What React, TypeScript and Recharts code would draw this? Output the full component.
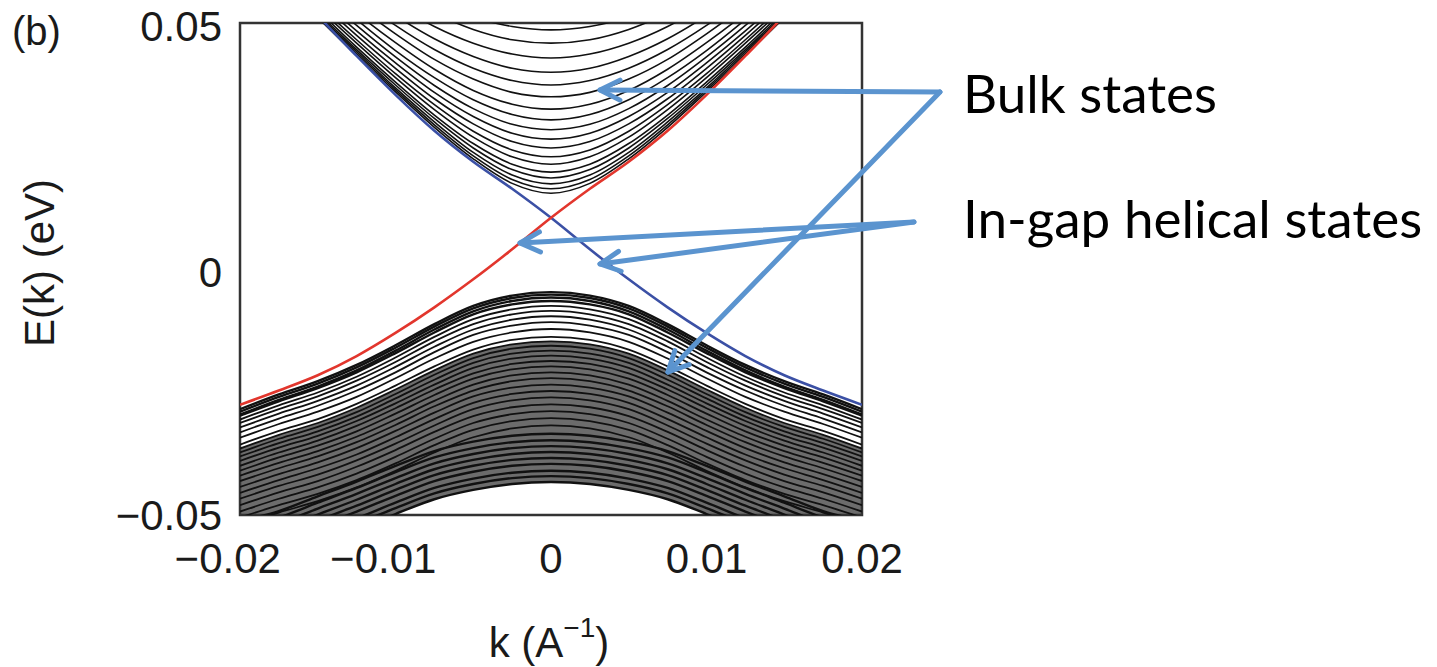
import { ComposedChart, Line, Area, XAxis, YAxis, ReferenceArea } from 'recharts';

// k grid (1/Å) used for every curve
const kGrid = [
  -0.02, -0.0175, -0.015, -0.0125, -0.01, -0.0075, -0.005, -0.0025, 0,
  0.0025, 0.005, 0.0075, 0.01, 0.0125, 0.015, 0.0175, 0.02,
];
const kTicks = [-0.02, -0.01, 0, 0.01, 0.02];
const eTicks = [-0.05, 0, 0.05];

// in-gap helical edge states (eV), one value per kGrid point
const helicalRed = [
  -0.0276, -0.0247, -0.0216, -0.0177, -0.013, -0.0078, -0.0021, 0.004, 0.0104,
  0.0163, 0.0218, 0.0281, 0.0354, 0.0433, 0.0516, 0.061, 0.07,
];
const helicalBlue = [
  0.07, 0.061, 0.0516, 0.0433, 0.0354, 0.0281, 0.0218, 0.0163, 0.0104,
  0.004, -0.0021, -0.0078, -0.013, -0.0177, -0.0216, -0.0247, -0.0276,
];

// bulk subbands, symmetric in k: values at k = 0, 0.0025 ... 0.02
const conductionBands = [
  [0.0154, 0.0174, 0.0224, 0.0288, 0.036, 0.0434, 0.0511, 0.0589, 0.0668],
  [0.0163, 0.0182, 0.023, 0.0293, 0.0364, 0.0438, 0.0514, 0.0592, 0.067],
  [0.0173, 0.0191, 0.0237, 0.0299, 0.0368, 0.0442, 0.0517, 0.0595, 0.0673],
  [0.0185, 0.0202, 0.0246, 0.0306, 0.0374, 0.0446, 0.0521, 0.0598, 0.0676],
  [0.0197, 0.0213, 0.0255, 0.0313, 0.038, 0.0451, 0.0526, 0.0602, 0.068],
  [0.0213, 0.0228, 0.0268, 0.0324, 0.0389, 0.0459, 0.0532, 0.0608, 0.0685],
  [0.0228, 0.0242, 0.028, 0.0334, 0.0397, 0.0466, 0.0538, 0.0613, 0.069],
  [0.0246, 0.0259, 0.0295, 0.0346, 0.0408, 0.0475, 0.0546, 0.062, 0.0696],
  [0.0264, 0.0276, 0.031, 0.0359, 0.0419, 0.0484, 0.0554, 0.0627, 0.0702],
  [0.0283, 0.0294, 0.0326, 0.0373, 0.0431, 0.0495, 0.0564, 0.0636, 0.071],
  [0.0303, 0.0314, 0.0344, 0.0389, 0.0444, 0.0507, 0.0575, 0.0646, 0.0719],
  [0.0325, 0.0335, 0.0363, 0.0406, 0.046, 0.052, 0.0587, 0.0657, 0.0729],
  [0.035, 0.0359, 0.0386, 0.0426, 0.0478, 0.0536, 0.0601, 0.0669, 0.074],
  [0.0374, 0.0383, 0.0408, 0.0446, 0.0495, 0.0552, 0.0615, 0.0682, 0.0752],
  [0.04, 0.0408, 0.0432, 0.0468, 0.0515, 0.057, 0.0631, 0.0697, 0.0766],
  [0.0429, 0.0437, 0.0459, 0.0493, 0.0538, 0.0591, 0.065, 0.0714, 0.0782],
  [0.0459, 0.0466, 0.0487, 0.052, 0.0563, 0.0614, 0.0671, 0.0733, 0.08],
  [0.0486, 0.0493, 0.0512, 0.0543, 0.0585, 0.0634, 0.069, 0.0751, 0.0816],
];

const valenceUpperBands = [
  [-0.0047, -0.0054, -0.0075, -0.0112, -0.0155, -0.0195, -0.0228, -0.0255, -0.0285],
  [-0.0052, -0.0059, -0.008, -0.0117, -0.016, -0.02, -0.0233, -0.026, -0.029],
  [-0.0058, -0.0065, -0.0086, -0.0123, -0.0166, -0.0206, -0.0239, -0.0266, -0.0296],
  [-0.0065, -0.0072, -0.0092, -0.0129, -0.0171, -0.021, -0.0242, -0.0269, -0.0298],
  [-0.0075, -0.0082, -0.0102, -0.0138, -0.018, -0.0219, -0.0251, -0.0277, -0.0306],
  [-0.0085, -0.0092, -0.0112, -0.0147, -0.0189, -0.0227, -0.0259, -0.0285, -0.0313],
  [-0.0096, -0.0103, -0.0123, -0.0158, -0.0199, -0.0237, -0.0268, -0.0294, -0.0322],
  [-0.0108, -0.0115, -0.0134, -0.0169, -0.021, -0.0247, -0.0278, -0.0304, -0.0332],
  [-0.0122, -0.0129, -0.0148, -0.0182, -0.0222, -0.026, -0.029, -0.0315, -0.0343],
  [-0.0138, -0.0144, -0.0164, -0.0198, -0.0237, -0.0274, -0.0305, -0.0329, -0.0357],
  [-0.0147, -0.0153, -0.0172, -0.0206, -0.0245, -0.0282, -0.0313, -0.0337, -0.0365],
  [-0.0156, -0.0162, -0.0181, -0.0215, -0.0254, -0.0291, -0.0321, -0.0345, -0.0373],
  [-0.0166, -0.0172, -0.0191, -0.0225, -0.0263, -0.03, -0.033, -0.0354, -0.0381],
  [-0.0176, -0.0182, -0.0201, -0.0235, -0.0273, -0.0309, -0.0339, -0.0363, -0.039],
  [-0.0187, -0.0193, -0.0212, -0.0245, -0.0283, -0.0319, -0.0349, -0.0373, -0.04],
  [-0.0198, -0.0204, -0.0223, -0.0256, -0.0294, -0.033, -0.0359, -0.0383, -0.041],
  [-0.021, -0.0216, -0.0235, -0.0268, -0.0306, -0.0341, -0.037, -0.0394, -0.042],
  [-0.0222, -0.0228, -0.0247, -0.0279, -0.0317, -0.0352, -0.0381, -0.0405, -0.0431],
  [-0.0235, -0.0241, -0.0259, -0.0292, -0.0329, -0.0364, -0.0393, -0.0417, -0.0443],
  [-0.0248, -0.0254, -0.0272, -0.0305, -0.0342, -0.0377, -0.0405, -0.0429, -0.0455],
  [-0.0261, -0.0267, -0.0285, -0.0318, -0.0355, -0.0389, -0.0418, -0.0441, -0.0467],
  [-0.0275, -0.0281, -0.0299, -0.0331, -0.0368, -0.0402, -0.0431, -0.0454, -0.048],
  [-0.0289, -0.0295, -0.0313, -0.0345, -0.0382, -0.0416, -0.0444, -0.0467, -0.0493],
  [-0.0303, -0.0309, -0.0327, -0.0358, -0.0395, -0.0429, -0.0457, -0.048, -0.0505],
  [-0.0318, -0.0324, -0.0342, -0.0373, -0.041, -0.0444, -0.0472, -0.0495, -0.052],
];

const valenceLowerBands = [
  [-0.0335, -0.0339, -0.0351, -0.037, -0.04, -0.0432, -0.0462, -0.0492, -0.0512],
  [-0.0348, -0.0352, -0.0364, -0.0383, -0.0413, -0.0445, -0.0475, -0.0505, -0.0525],
  [-0.036, -0.0364, -0.0376, -0.0395, -0.0425, -0.0457, -0.0487, -0.0517, -0.0537],
  [-0.0372, -0.0376, -0.0388, -0.0407, -0.0437, -0.0469, -0.0499, -0.0529, -0.0549],
  [-0.0384, -0.0388, -0.04, -0.0419, -0.0449, -0.0481, -0.0511, -0.0541, -0.0561],
  [-0.0396, -0.04, -0.0412, -0.0431, -0.0461, -0.0493, -0.0523, -0.0553, -0.0573],
  [-0.041, -0.0414, -0.0426, -0.0445, -0.0475, -0.0507, -0.0537, -0.0567, -0.0587],
  [-0.0421, -0.0425, -0.0437, -0.0456, -0.0486, -0.0518, -0.0548, -0.0578, -0.0598],
  [-0.0433, -0.0437, -0.0449, -0.0468, -0.0498, -0.053, -0.056, -0.059, -0.061],
];

const FONT = '"Liberation Sans", Arial, Helvetica, sans-serif';
const ARROW = '#5b94cf';

const chartData = kGrid.map((k, i) => {
  const h = Math.abs(i - 8); // bulk bands are mirrored about k = 0
  const row: Record<string, any> = { k, red: helicalRed[i], blue: helicalBlue[i] };
  conductionBands.forEach((b, j) => (row[`c${j}`] = b[h]));
  valenceUpperBands.forEach((b, j) => (row[`vu${j}`] = b[h]));
  valenceLowerBands.forEach((b, j) => (row[`vl${j}`] = b[h]));
  // grey mesh of the dense lower valence bands
  row.mesh = [valenceLowerBands[valenceLowerBands.length - 1][h], valenceUpperBands[10][h]];
  return row;
});

const XTick = ({ x, y, payload }: any) => {
  const v = payload.value as number;
  const body = v === 0 ? '0' : Math.abs(v).toFixed(2);
  return (
    <g fontFamily={FONT} fontSize={42} fill="#1a1a1a">
      <text x={x} y={y + 58} textAnchor="middle">{body}</text>
      {v < 0 && <text x={x - 41} y={y + 58} textAnchor="end">−</text>}
    </g>
  );
};

const YTick = ({ x, y, payload }: any) => {
  const v = payload.value as number;
  const label = v === 0 ? '0' : (v < 0 ? '−' : '') + Math.abs(v).toFixed(2);
  return (
    <text x={x - 18} y={y + (v < 0 ? 15 : 18)} textAnchor="end" fontFamily={FONT} fontSize={42} fill="#1a1a1a">
      {label}
    </text>
  );
};

function Arrow({ from, to }: { from: [number, number]; to: [number, number] }) {
  const dx = to[0] - from[0];
  const dy = to[1] - from[1];
  const len = Math.hypot(dx, dy);
  const ux = dx / len, uy = dy / len;
  const a = 20, w = 10;
  const head = `${to[0] - a * ux - w * uy},${to[1] - a * uy + w * ux} ${to[0]},${to[1]} ${to[0] - a * ux + w * uy},${to[1] - a * uy - w * ux}`;
  return (
    <g stroke={ARROW} strokeWidth={5} fill="none" strokeLinecap="round" strokeLinejoin="round">
      <line x1={from[0]} y1={from[1]} x2={to[0]} y2={to[1]} />
      <polyline points={head} />
    </g>
  );
}

export default function App() {
  return (
    <div style={{ position: 'absolute', left: 0, top: 0, width: 1437, height: 667, background: '#fff' }}>
      <ComposedChart
        width={1437}
        height={667}
        data={chartData}
        margin={{ top: 23, right: 575, bottom: 0, left: 0 }}
      >
        <XAxis
          dataKey="k"
          type="number"
          domain={[-0.02, 0.02]}
          ticks={kTicks}
          allowDataOverflow
          height={152}
          tickSize={0}
          tickMargin={0}
          tickLine={false}
          axisLine={false}
          tick={<XTick />}
        />
        <YAxis
          type="number"
          domain={[-0.05, 0.05]}
          ticks={eTicks}
          allowDataOverflow
          width={240}
          tickSize={0}
          tickMargin={0}
          tickLine={false}
          axisLine={false}
          tick={<YTick />}
        />
        <Area dataKey="mesh" type="monotone" fill="#6c6c6c" fillOpacity={1} stroke="none" isAnimationActive={false} />
        {valenceLowerBands.map((_, j) => (
          <Line key={`vl${j}`} dataKey={`vl${j}`} type="monotone" stroke="#111" strokeWidth={2.4} dot={false} isAnimationActive={false} />
        ))}
        {valenceUpperBands.map((_, j) => (
          <Line key={`vu${j}`} dataKey={`vu${j}`} type="monotone" stroke="#111" strokeWidth={j < 4 ? 2.4 : 1.8} dot={false} isAnimationActive={false} />
        ))}
        {conductionBands.map((_, j) => (
          <Line key={`c${j}`} dataKey={`c${j}`} type="monotone" stroke="#111" strokeWidth={1.6} dot={false} isAnimationActive={false} />
        ))}
        <Line dataKey="blue" type="monotone" stroke="#3b50a5" strokeWidth={2.6} dot={false} isAnimationActive={false} />
        <Line dataKey="red" type="monotone" stroke="#e2362d" strokeWidth={2.6} dot={false} isAnimationActive={false} />
        <ReferenceArea x1={-0.02} x2={0.02} y1={-0.05} y2={0.05} fill="none" stroke="#333" strokeWidth={2.5} />
      </ComposedChart>

      <svg
        width={1437}
        height={667}
        style={{ position: 'absolute', left: 0, top: 0, pointerEvents: 'none' }}
      >
        <text x={12} y={45} fontFamily={FONT} fontSize={40} fill="#1a1a1a">(b)</text>
        <text transform="translate(54,263) rotate(-90)" textAnchor="middle" fontFamily={FONT} fontSize={42} fill="#1a1a1a">
          E(k) (eV)
        </text>
        <text x={549} y={657} textAnchor="middle" fontFamily={FONT} fontSize={42} fill="#1a1a1a">
          k (A<tspan dy={-20} fontSize={28}>−1</tspan><tspan dy={20}>)</tspan>
        </text>

        <Arrow from={[940, 92]} to={[600, 90]} />
        <Arrow from={[940, 92]} to={[668, 372]} />
        <Arrow from={[914, 222]} to={[520, 243]} />
        <Arrow from={[914, 222]} to={[600, 264]} />

        <text x={963} y={113} fontFamily="Lato, 'Open Sans', sans-serif" fontSize={53} fill="#000">Bulk states</text>
        <text x={963} y={238} fontFamily="Lato, 'Open Sans', sans-serif" fontSize={53} fill="#000">In-gap helical states</text>
      </svg>
    </div>
  );
}
